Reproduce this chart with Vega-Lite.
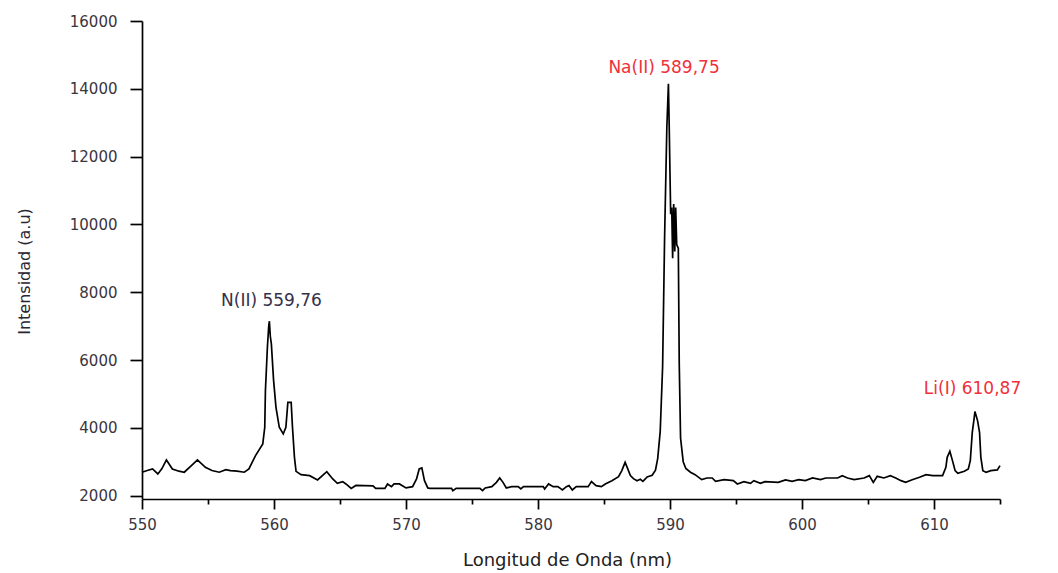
{
  "$schema": "https://vega.github.io/schema/vega-lite/v6.json",
  "width": 858,
  "height": 478,
  "autosize": {"type": "none"},
  "padding": {"left": 142, "top": 21, "right": 58, "bottom": 74},
  "background": "white",
  "config": {"view": {"stroke": null}, "font": "DejaVu Sans"},
  "layer": [
    {
      "data": {"values": [
        {"nm":550.0,"intensidad":2690},{"nm":550.4,"intensidad":2740},{"nm":550.8,"intensidad":2787},{"nm":551.2,"intensidad":2640},
        {"nm":551.5,"intensidad":2790},{"nm":551.85,"intensidad":3053},{"nm":552.3,"intensidad":2787},{"nm":552.8,"intensidad":2720},
        {"nm":553.2,"intensidad":2690},{"nm":553.7,"intensidad":2870},{"nm":554.2,"intensidad":3053},{"nm":554.8,"intensidad":2834},
        {"nm":555.3,"intensidad":2740},{"nm":555.85,"intensidad":2690},{"nm":556.35,"intensidad":2766},{"nm":556.7,"intensidad":2736},
        {"nm":557.2,"intensidad":2720},{"nm":557.75,"intensidad":2690},{"nm":558.1,"intensidad":2787},{"nm":558.6,"intensidad":3180},
        {"nm":559.15,"intensidad":3525},{"nm":559.3,"intensidad":4015},{"nm":559.35,"intensidad":5098},{"nm":559.5,"intensidad":6376},
        {"nm":559.6,"intensidad":7000},{"nm":559.65,"intensidad":7144},{"nm":559.72,"intensidad":6700},{"nm":559.8,"intensidad":6477},
        {"nm":559.97,"intensidad":5393},{"nm":560.15,"intensidad":4605},{"nm":560.4,"intensidad":4015},{"nm":560.7,"intensidad":3820},
        {"nm":560.9,"intensidad":4015},{"nm":561.05,"intensidad":4752},{"nm":561.3,"intensidad":4752},{"nm":561.4,"intensidad":4015},
        {"nm":561.55,"intensidad":3130},{"nm":561.67,"intensidad":2716},{"nm":562.05,"intensidad":2618},{"nm":562.7,"intensidad":2589},
        {"nm":563.3,"intensidad":2462},{"nm":564.0,"intensidad":2707},{"nm":564.45,"intensidad":2492},{"nm":564.8,"intensidad":2362},
        {"nm":565.2,"intensidad":2412},{"nm":565.45,"intensidad":2344},{"nm":565.85,"intensidad":2214},{"nm":566.2,"intensidad":2300},
        {"nm":567.5,"intensidad":2290},{"nm":567.7,"intensidad":2214},{"nm":568.4,"intensidad":2214},{"nm":568.6,"intensidad":2344},
        {"nm":568.9,"intensidad":2264},{"nm":569.1,"intensidad":2344},{"nm":569.5,"intensidad":2344},{"nm":570.0,"intensidad":2226},
        {"nm":570.5,"intensidad":2264},{"nm":570.8,"intensidad":2492},{"nm":571.0,"intensidad":2787},{"nm":571.2,"intensidad":2816},
        {"nm":571.4,"intensidad":2441},{"nm":571.65,"intensidad":2226},{"nm":571.8,"intensidad":2214},{"nm":573.45,"intensidad":2214},
        {"nm":573.55,"intensidad":2146},{"nm":573.8,"intensidad":2214},{"nm":575.6,"intensidad":2214},{"nm":575.8,"intensidad":2146},
        {"nm":576.0,"intensidad":2226},{"nm":576.5,"intensidad":2264},{"nm":576.85,"intensidad":2391},{"nm":577.1,"intensidad":2520},
        {"nm":577.35,"intensidad":2391},{"nm":577.6,"intensidad":2226},{"nm":578.0,"intensidad":2264},{"nm":578.5,"intensidad":2264},
        {"nm":578.7,"intensidad":2196},{"nm":578.9,"intensidad":2264},{"nm":580.4,"intensidad":2264},{"nm":580.5,"intensidad":2196},
        {"nm":580.8,"intensidad":2344},{"nm":581.15,"intensidad":2264},{"nm":581.5,"intensidad":2264},{"nm":581.85,"intensidad":2167},
        {"nm":582.15,"intensidad":2264},{"nm":582.35,"intensidad":2294},{"nm":582.6,"intensidad":2167},{"nm":582.9,"intensidad":2264},
        {"nm":583.8,"intensidad":2264},{"nm":584.05,"intensidad":2412},{"nm":584.4,"intensidad":2294},{"nm":584.8,"intensidad":2264},
        {"nm":585.1,"intensidad":2344},{"nm":585.6,"intensidad":2441},{"nm":586.1,"intensidad":2559},{"nm":586.35,"intensidad":2736},
        {"nm":586.6,"intensidad":2982},{"nm":586.8,"intensidad":2787},{"nm":587.0,"intensidad":2589},{"nm":587.23,"intensidad":2500},
        {"nm":587.5,"intensidad":2440},{"nm":587.75,"intensidad":2480},{"nm":587.95,"intensidad":2420},{"nm":588.27,"intensidad":2550},
        {"nm":588.65,"intensidad":2600},{"nm":588.9,"intensidad":2750},{"nm":589.07,"intensidad":3100},{"nm":589.26,"intensidad":3900},
        {"nm":589.44,"intensidad":5800},{"nm":589.59,"intensidad":9600},{"nm":589.76,"intensidad":12850},{"nm":589.88,"intensidad":14150},
        {"nm":589.94,"intensidad":12900},{"nm":590.05,"intensidad":10300},{"nm":590.13,"intensidad":10500},{"nm":590.2,"intensidad":9000},
        {"nm":590.28,"intensidad":10600},{"nm":590.36,"intensidad":9200},{"nm":590.43,"intensidad":10500},{"nm":590.51,"intensidad":9400},
        {"nm":590.63,"intensidad":9300},{"nm":590.7,"intensidad":5900},{"nm":590.8,"intensidad":3700},{"nm":591.0,"intensidad":3000},
        {"nm":591.2,"intensidad":2800},{"nm":591.55,"intensidad":2690},{"nm":591.9,"intensidad":2618},{"nm":592.4,"intensidad":2470},
        {"nm":592.8,"intensidad":2520},{"nm":593.2,"intensidad":2520},{"nm":593.45,"intensidad":2420},{"nm":594.1,"intensidad":2470},
        {"nm":594.8,"intensidad":2441},{"nm":595.1,"intensidad":2344},{"nm":595.6,"intensidad":2412},{"nm":596.1,"intensidad":2362},
        {"nm":596.35,"intensidad":2441},{"nm":596.85,"intensidad":2362},{"nm":597.2,"intensidad":2412},{"nm":598.2,"intensidad":2391},
        {"nm":598.75,"intensidad":2462},{"nm":599.25,"intensidad":2420},{"nm":599.75,"intensidad":2470},{"nm":600.25,"intensidad":2441},
        {"nm":600.8,"intensidad":2520},{"nm":601.4,"intensidad":2470},{"nm":601.8,"intensidad":2520},{"nm":602.7,"intensidad":2520},
        {"nm":603.05,"intensidad":2589},{"nm":603.45,"intensidad":2520},{"nm":603.95,"intensidad":2470},{"nm":604.7,"intensidad":2520},
        {"nm":605.1,"intensidad":2589},{"nm":605.4,"intensidad":2391},{"nm":605.7,"intensidad":2569},{"nm":606.2,"intensidad":2520},
        {"nm":606.7,"intensidad":2589},{"nm":607.1,"intensidad":2520},{"nm":607.5,"intensidad":2441},{"nm":607.85,"intensidad":2391},
        {"nm":608.35,"intensidad":2470},{"nm":608.9,"intensidad":2540},{"nm":609.4,"intensidad":2618},{"nm":609.9,"intensidad":2589},
        {"nm":610.65,"intensidad":2589},{"nm":610.9,"intensidad":2834},{"nm":611.0,"intensidad":3130},{"nm":611.2,"intensidad":3307},
        {"nm":611.4,"intensidad":3032},{"nm":611.6,"intensidad":2736},{"nm":611.8,"intensidad":2657},{"nm":612.3,"intensidad":2716},
        {"nm":612.6,"intensidad":2787},{"nm":612.75,"intensidad":3032},{"nm":612.9,"intensidad":3867},{"nm":613.05,"intensidad":4310},
        {"nm":613.1,"intensidad":4478},{"nm":613.3,"intensidad":4212},{"nm":613.45,"intensidad":3867},{"nm":613.55,"intensidad":3130},
        {"nm":613.7,"intensidad":2736},{"nm":613.95,"intensidad":2690},{"nm":614.3,"intensidad":2736},{"nm":614.8,"intensidad":2757},
        {"nm":615.0,"intensidad":2884}
      ]},
      "mark": {"type": "line", "color": "black", "strokeWidth": 1.7, "interpolate": "linear"},
      "encoding": {
        "x": {
          "field": "nm", "type": "quantitative",
          "scale": {"domain": [550, 615], "nice": false, "zero": false},
          "axis": {
            "values": [550,555,560,565,570,575,580,585,590,595,600,605,610,615],
            "format": "d",
            "labelExpr": "datum.value % 10 == 0 ? datum.label : ''",
            "tickSize": {"condition": {"test": "datum.value % 10 == 0", "value": 10}, "value": 5},
            "grid": false,
            "domainColor": "black", "domainWidth": 1.7,
            "tickColor": "black", "tickWidth": 1.7,
            "labelFont": "DejaVu Sans", "labelFontSize": 15, "labelColor": "#3a3540",
            "labelPadding": 8, "labelFlush": false, "labelOverlap": false,
            "title": "Longitud de Onda (nm)",
            "titleFont": "DejaVu Sans", "titleFontSize": 18, "titleFontWeight": "normal", "titleColor": "#222",
            "titleX": 425, "titleY": 66, "titleBaseline": "alphabetic"
          }
        },
        "y": {
          "field": "intensidad", "type": "quantitative",
          "scale": {"domain": [1900, 16000], "nice": false, "zero": false},
          "axis": {
            "values": [2000,3000,4000,5000,6000,7000,8000,9000,10000,11000,12000,13000,14000,15000,16000],
            "format": "d",
            "labelExpr": "datum.value % 2000 == 0 ? datum.label : ''",
            "tickSize": {"condition": {"test": "datum.value % 2000 == 0", "value": 12}, "value": 7},
            "grid": false,
            "domainColor": "black", "domainWidth": 1.7,
            "tickColor": "black", "tickWidth": 1.7,
            "labelFont": "DejaVu Sans", "labelFontSize": 15, "labelColor": "#3a3540",
            "labelPadding": 13, "labelOverlap": false,
            "title": "Intensidad (a.u)",
            "titleFont": "DejaVu Sans", "titleFontSize": 16, "titleFontWeight": "normal", "titleColor": "#2a2530",
            "titleX": -113, "titleY": 250, "titleBaseline": "alphabetic", "titleAngle": -90
          }
        }
      }
    },
    {
      "data": {"values": [
        {"nm": 559.81, "intensidad": 7745, "label": "N(II) 559,76", "elemento": "N"},
        {"nm": 589.55, "intensidad": 14620, "label": "Na(II) 589,75", "elemento": "Na"},
        {"nm": 612.92, "intensidad": 5159, "label": "Li(I) 610,87", "elemento": "Li"}
      ]},
      "mark": {"type": "text", "font": "DejaVu Sans", "fontSize": 17, "align": "center", "baseline": "middle"},
      "encoding": {
        "x": {"field": "nm", "type": "quantitative"},
        "y": {"field": "intensidad", "type": "quantitative"},
        "text": {"field": "label"},
        "color": {
          "field": "elemento", "type": "nominal",
          "scale": {"domain": ["N", "Na", "Li"], "range": ["#35304a", "#f0303a", "#f0303a"]},
          "legend": null
        }
      }
    }
  ]
}
